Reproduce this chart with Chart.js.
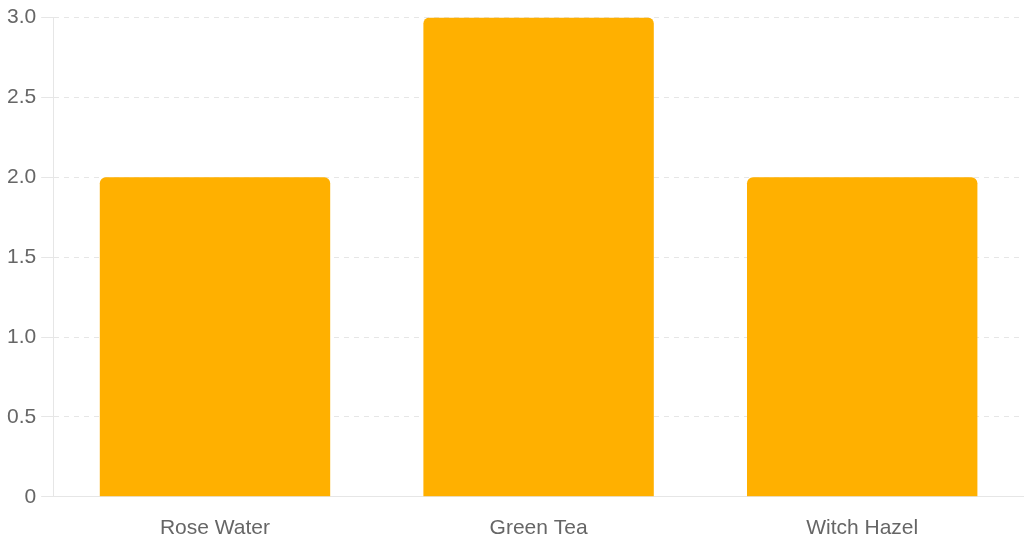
<!DOCTYPE html>
<html>
<head>
<meta charset="utf-8">
<script src="https://cdn.jsdelivr.net/npm/chart.js@4/dist/chart.umd.min.js"></script>
<style>
  html, body { margin: 0; padding: 0; background: #fff; }
  #wrap { width: 1024px; height: 547px; }
</style>
</head>
<body>
<div id="wrap"><canvas id="toner-chart"></canvas></div>
<script>
// --- DATA ---
const categories = ['Rose Water', 'Green Tea', 'Witch Hazel'];
const counts = [2, 3, 2];

const barColor = '#FFB000';
const gridColor = '#e6e6e6';
const labelColor = '#666666';

const ctx = document.getElementById('toner-chart');
new Chart(ctx, {
    type: 'bar',
    data: {
        labels: categories,
        datasets: [{
            label: 'Toners',
            data: counts,
            backgroundColor: barColor,
            borderRadius: { topLeft: 6, topRight: 6 },
            borderSkipped: false,
            categoryPercentage: 0.8,
            barPercentage: 0.89
        }]
    },
    options: {
        responsive: true,
        maintainAspectRatio: false,
        animation: false,
        layout: { padding: { top: 2, left: 2, bottom: 0 } },
        plugins: {
            legend: { display: false },
            tooltip: { enabled: false }
        },
        scales: {
            y: {
                beginAtZero: true,
                max: 3,
                ticks: {
                    stepSize: 0.5,
                    padding: 5,
                    color: labelColor,
                    font: { family: 'Liberation Sans', size: 21 },
                    callback: v => v === 0 ? '0' : v.toFixed(1)
                },
                grid: { color: gridColor, tickLength: 12, tickBorderDash: [] },
                border: { color: gridColor, dash: [5, 5] }
            },
            x: {
                ticks: {
                    padding: 6,
                    color: labelColor,
                    font: { family: 'Liberation Sans', size: 21 }
                },
                grid: { display: false, tickLength: 13 },
                border: { color: gridColor }
            }
        }
    }
});
</script>
</body>
</html>
